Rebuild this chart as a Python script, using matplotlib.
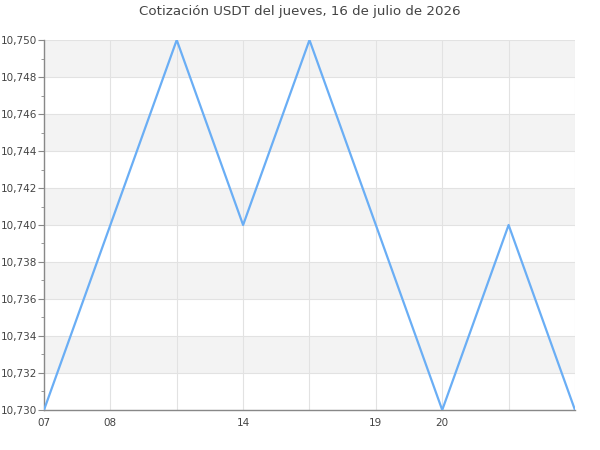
import matplotlib
matplotlib.use("Agg")
import matplotlib.pyplot as plt
from matplotlib.ticker import MultipleLocator, FuncFormatter

# data
hours = ["07", "08", "", "14", "", "19", "20", "", ""]
prices = [10.730, 10.740, 10.750, 10.740, 10.750, 10.740, 10.730, 10.740, 10.730]
title = "Cotización USDT del jueves, 16 de julio de 2026"

fig = plt.figure(figsize=(6, 4.5), dpi=100)
ax = fig.add_axes([0.0733, 0.0889, 0.885, 0.8222])

xs = list(range(len(prices)))
ymin, ymax = 10.730, 10.750

# alternating bands
step = 0.002
y = ymin
i = 0
while y < ymax - 1e-9:
    if i % 2 == 1:
        ax.axhspan(y, y + step, color="#f3f3f3", zorder=0, lw=0)
    y += step
    i += 1

ax.plot(xs, prices, color="#6aaef5", lw=1.6, zorder=3)

ax.set_xlim(0, len(prices) - 1)
ax.set_ylim(ymin, ymax)
ax.set_xticks(xs)
ax.set_xticklabels(hours)
ax.yaxis.set_major_locator(MultipleLocator(0.002))
ax.yaxis.set_minor_locator(MultipleLocator(0.001))
ax.yaxis.set_major_formatter(FuncFormatter(lambda v, p: f"{v:.3f}".replace(".", ",")))
ax.grid(True, which="major", color="#e2e2e2", lw=0.8, zorder=1)

for s in ("top", "right"):
    ax.spines[s].set_visible(False)
for s in ("left", "bottom"):
    ax.spines[s].set_color("#888888")
    ax.spines[s].set_linewidth(1.0)

ax.tick_params(axis="x", length=0, pad=6, labelsize=7.5, colors="#444444")
ax.tick_params(axis="y", which="major", length=4, color="#888888", labelsize=7.5, labelcolor="#444444", pad=1)
ax.tick_params(axis="y", which="minor", length=2.5, color="#888888")

fig.suptitle(title, y=0.99, fontsize=9.6, color="#444444")
fig.savefig("out.png", dpi=100)
